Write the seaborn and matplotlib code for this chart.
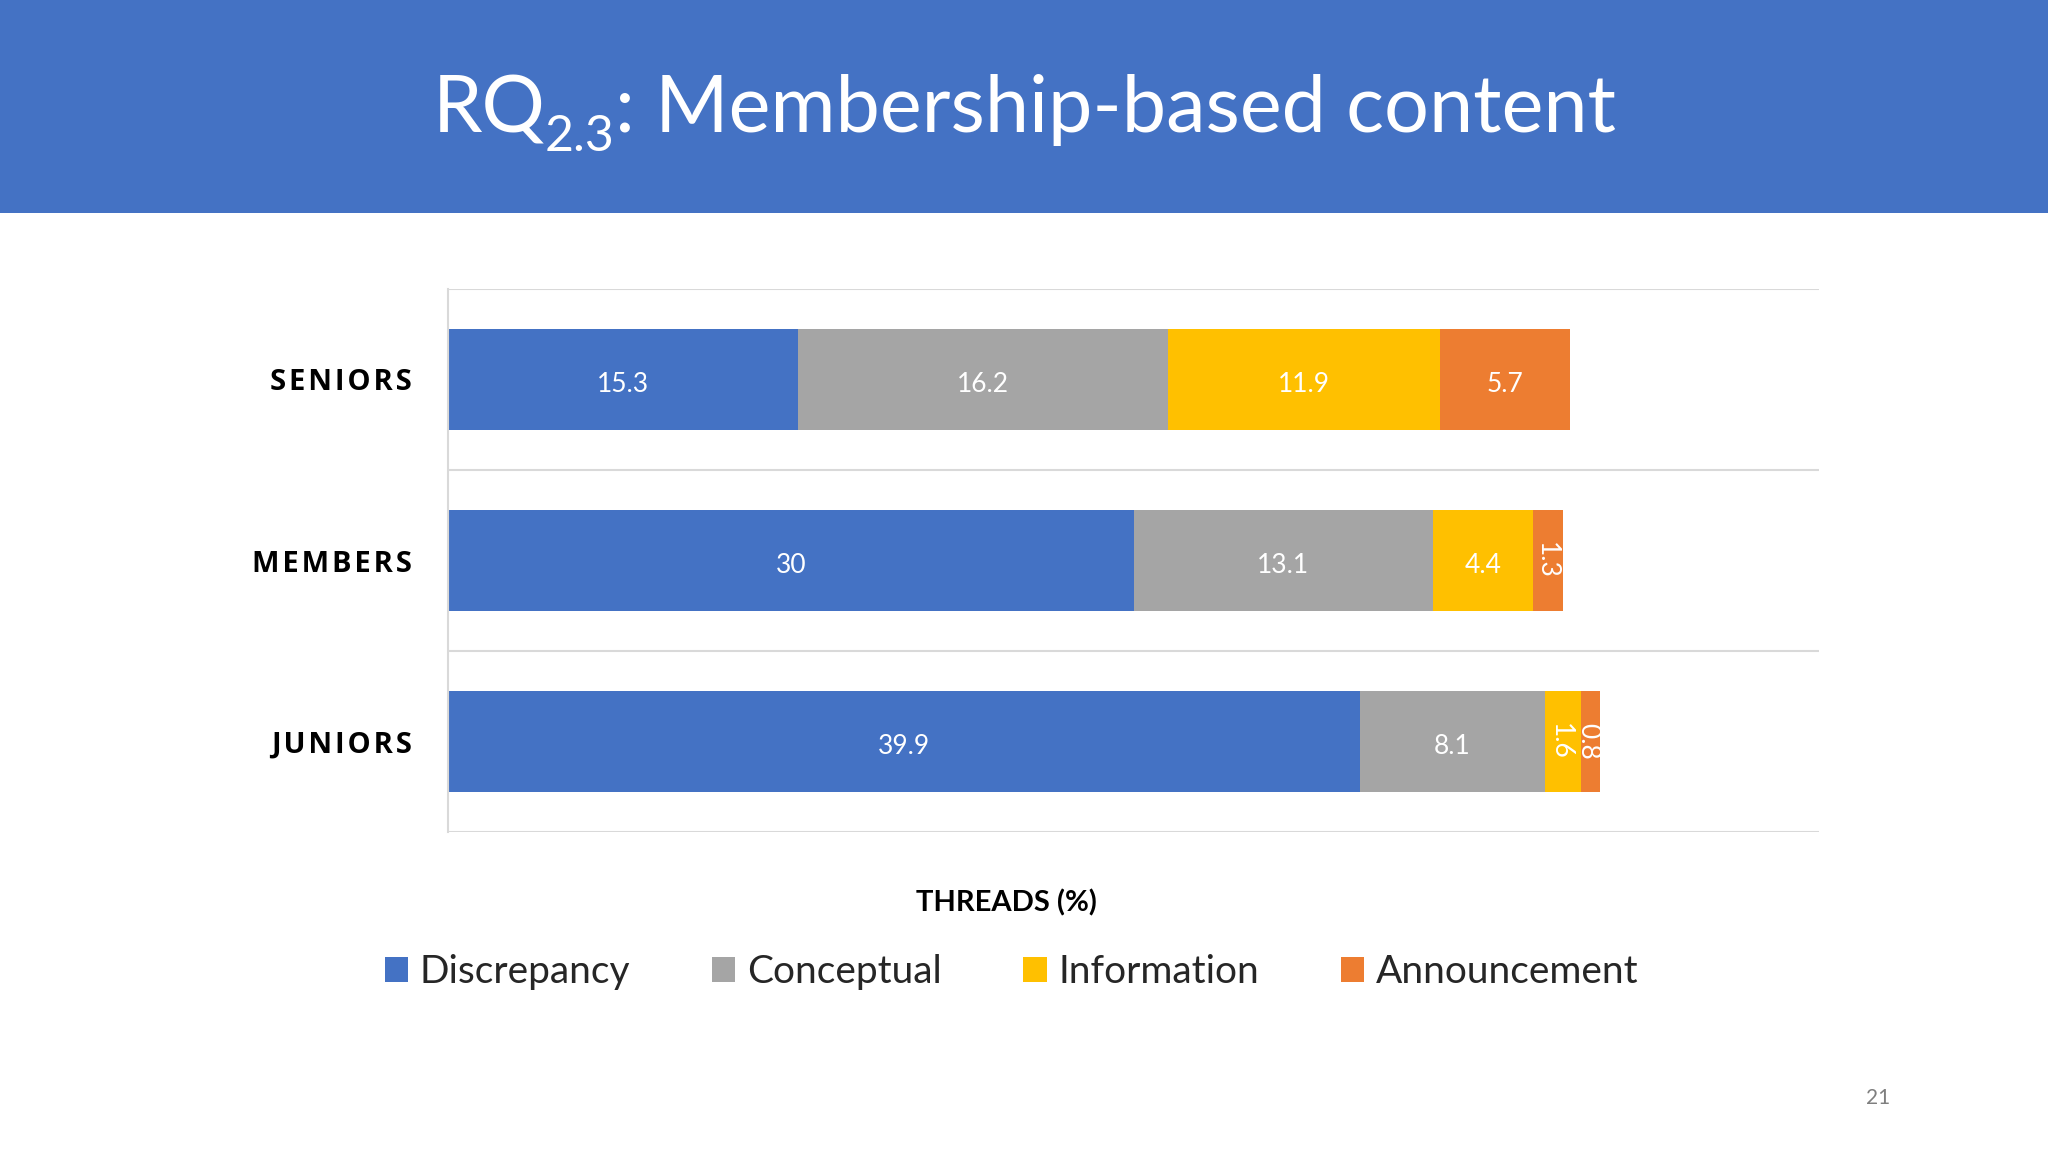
# 堆叠条形图：按成员身份统计的帖子类型占比

import matplotlib.pyplot as plt
from matplotlib.patches import Rectangle, Patch
import seaborn as sns
import pandas as pd
import numpy as np

groups = ['SENIORS', 'MEMBERS', 'JUNIORS']
categories = ['Discrepancy', 'Conceptual', 'Information', 'Announcement']
discrepancy = [15.3, 30, 39.9]
conceptual = [16.2, 13.1, 8.1]
information = [11.9, 4.4, 1.6]
announcement = [5.7, 1.3, 0.8]
colors = ['#4472C4', '#A5A5A5', '#FFC000', '#ED7D31']

sns.set_theme(style='white')
plt.rcParams['font.family'] = ['Lato', 'DejaVu Sans']

values = np.array([discrepancy, conceptual, information, announcement])
cum = values.cumsum(axis=0)

W, H = 2048, 1152
fig = plt.figure(figsize=(W / 100, H / 100), dpi=100)
fig.patch.set_facecolor('white')

# 顶部蓝色标题栏
fig.add_artist(Rectangle((0, 1 - 213 / H), 1, 213 / H, transform=fig.transFigure,
                         facecolor='#4472C4', edgecolor='none', zorder=0))

# 标题（带下标），分三段放置
renderer = fig.canvas.get_renderer()
base_y = 1 - 132 / H
parts = [('RQ', 57, 0), ('2.3', 36, -19), (': Membership-based content', 57, 0)]
texts = [fig.text(0, base_y + dy / H, s, fontsize=fs, color='white', va='baseline')
         for s, fs, dy in parts]
widths = [t.get_window_extent(renderer).width for t in texts]
x = (W - sum(widths)) / 2
for t, w in zip(texts, widths):
    t.set_x(x / W)
    x += w

ax = fig.add_axes([448 / W, 1 - 832 / H, (1819 - 448) / W, (832 - 289) / H])

# 逆序绘制累计和，实现堆叠效果
for i in range(len(categories) - 1, -1, -1):
    df = pd.DataFrame({'group': groups, 'value': cum[i]})
    sns.barplot(data=df, y='group', x='value', orient='h', color=colors[i],
                width=0.555, saturation=1, ax=ax, linewidth=0)

# 数值标签
for i in range(len(categories)):
    for j, g in enumerate(groups):
        v = values[i, j]
        center = cum[i, j] - v / 2
        if v < 2:
            ax.text(center - 0.1, j, f'{v:g}', ha='center', va='center', color='white',
                    fontsize=19, rotation=-90)
        else:
            ax.text(center, j + 0.03, f'{v:g}', ha='center', va='center', color='white', fontsize=19)

ax.set_xlim(0, 60)
ax.set_ylim(2.5, -0.5)
for y in [-0.5, 0.5, 1.5, 2.5]:
    ax.axhline(y, color='#D9D9D9', linewidth=1.5, zorder=0)
for s in ['top', 'right', 'bottom']:
    ax.spines[s].set_visible(False)
ax.spines['left'].set_color('#D9D9D9')
ax.spines['left'].set_linewidth(1.5)
ax.set_xticks([])
ax.set_ylabel('')
ax.set_xlabel('THREADS (%)', fontsize=21, fontweight='bold', color='black')
ax.xaxis.set_label_coords(0.407, -0.106)
ax.tick_params(axis='y', length=0, pad=26)
ax.set_yticks(range(len(groups)))
ax.set_yticklabels(['\u200a'.join(g) for g in groups], fontsize=21, fontweight='bold',
                   family=['Open Sans', 'DejaVu Sans'], color='black')

handles = [Patch(facecolor=c, edgecolor='none') for c in colors]
fig.legend(handles, categories, loc='center', bbox_to_anchor=(0.494, 1 - 972 / H), ncol=4,
           frameon=False, fontsize=28, handlelength=0.6, handleheight=0.6,
           handletextpad=0.3, columnspacing=2.1)

fig.text(1878 / W, 1 - 1098 / H, '21', ha='center', va='center', color='#7F7F7F', fontsize=15)

fig.savefig('out.png', dpi=100)
